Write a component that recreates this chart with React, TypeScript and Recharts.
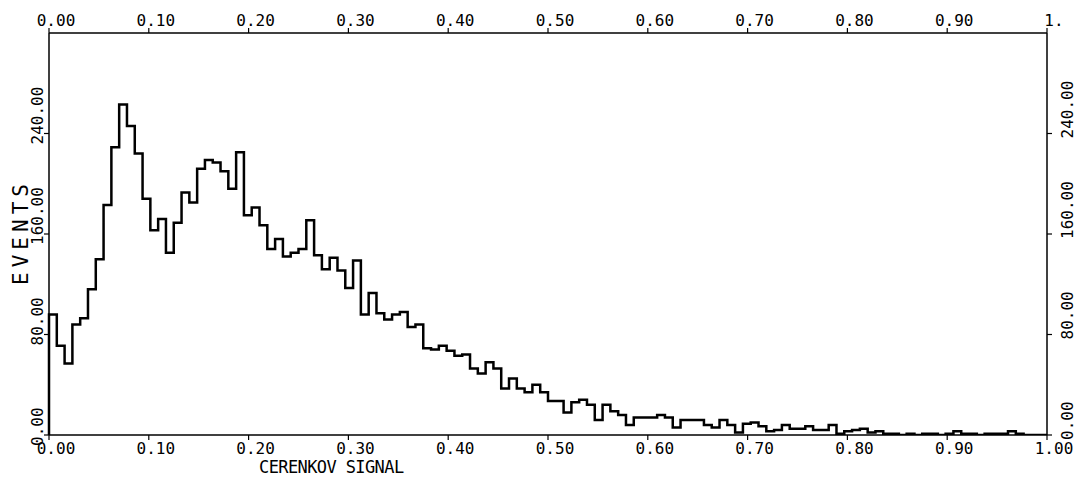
import { Label, Line, LineChart, XAxis, YAxis } from "recharts";

// 128 bins over 0..1, counts
const binCount = 128;
const events = [
  96, 71, 57, 88, 93, 116, 140, 183, 229, 263, 246, 224, 188, 163, 172, 145,
  169, 193, 185, 212, 219, 217, 210, 196, 225, 175, 181, 167, 148, 156, 142, 145,
  148, 171, 143, 132, 141, 131, 117, 139, 96, 113, 97, 92, 96, 98, 86, 88,
  69, 68, 71, 67, 63, 64, 53, 49, 58, 53, 37, 45, 37, 34, 40, 34,
  27, 27, 18, 26, 28, 24, 12, 24, 19, 16, 8, 14, 14, 14, 16, 14,
  6, 12, 12, 12, 8, 6, 12, 8, 2, 9, 10, 7, 3, 4, 8, 5,
  5, 7, 4, 4, 8, 1, 3, 4, 5, 2, 3, 1, 1, 0, 1, 0,
  1, 1, 0, 1, 3, 1, 1, 0, 1, 1, 1, 3, 1, 0, 0, 0,
];
const xTicks = [0, 0.1, 0.2, 0.3, 0.4, 0.5, 0.6, 0.7, 0.8, 0.9, 1];
const yTicks = [0, 80, 160, 240];

const data = [
  { x: 0, y: 0 },
  ...events.map((v, i) => ({ x: i / binCount, y: v })),
  { x: 1, y: 0 },
];

const font = "'DejaVu Sans Mono', monospace";
const ink = "#000";

function BottomTick({ x, y, payload }: any) {
  return (
    <text x={x + 7} y={y + 12} textAnchor="middle" fontFamily={font} fontSize={16} fill={ink}>
      {payload.value.toFixed(2)}
    </text>
  );
}

function TopTick({ x, y, payload }: any) {
  const label = payload.value === 1 ? "1." : payload.value.toFixed(2);
  return (
    <text x={x + 7} y={y} textAnchor="middle" fontFamily={font} fontSize={16} fill={ink}>
      {label}
    </text>
  );
}

function LeftTick({ x, y, payload }: any) {
  const ty = y + 11;
  return (
    <text x={x} y={ty} transform={`rotate(-90 ${x} ${ty})`} fontFamily={font} fontSize={16} fill={ink}>
      {payload.value.toFixed(2)}
    </text>
  );
}

function RightTick({ x, y, payload }: any) {
  const tx = x + 20;
  const ty = y + 5;
  return (
    <text x={tx} y={ty} transform={`rotate(-90 ${tx} ${ty})`} fontFamily={font} fontSize={16} fill={ink}>
      {payload.value.toFixed(2)}
    </text>
  );
}

export default function App() {
  const axisLine = { stroke: ink, strokeWidth: 1.5 };
  const tickLine = { stroke: ink, strokeWidth: 1.2 };
  return (
    <div style={{ position: "absolute", left: 0, top: 0, background: "#fff" }}>
      <LineChart width={1082} height={483} data={data} margin={{ top: 8, right: 5, bottom: 8, left: 9 }}>
        <XAxis
          xAxisId="bottom"
          dataKey="x"
          type="number"
          domain={[0, 1]}
          ticks={xTicks}
          interval={0}
          height={40}
          tickSize={5}
          tickMargin={2}
          axisLine={axisLine}
          tickLine={tickLine}
          tick={<BottomTick />}
        >
          <Label
            content={(props: any) => {
              const vb = props.viewBox ?? { x: 49, y: 435 };
              return (
                <text x={vb.x + 210} y={vb.y + 38} fontFamily={font} fontSize={17} letterSpacing={-0.6} fill={ink}>
                  CERENKOV SIGNAL
                </text>
              );
            }}
          />
        </XAxis>
        <XAxis
          xAxisId="top"
          orientation="top"
          dataKey="x"
          type="number"
          domain={[0, 1]}
          ticks={xTicks}
          interval={0}
          height={25}
          tickSize={5}
          tickMargin={2}
          axisLine={axisLine}
          tickLine={tickLine}
          tick={<TopTick />}
        />
        <YAxis
          yAxisId="left"
          type="number"
          domain={[0, 320]}
          ticks={yTicks}
          interval={0}
          width={40}
          tickSize={5}
          tickMargin={1}
          allowDataOverflow
          axisLine={axisLine}
          tickLine={tickLine}
          tick={<LeftTick />}
        >
          <Label
            content={(props: any) => {
              const vb = props.viewBox ?? { x: 9, y: 33, height: 402 };
              const tx = vb.x + 19;
              const ty = vb.y + vb.height / 2 - 2;
              return (
                <text
                  x={tx}
                  y={ty}
                  transform={`rotate(-90 ${tx} ${ty})`}
                  textAnchor="middle"
                  fontFamily={font}
                  fontSize={21}
                  letterSpacing={5}
                  fill={ink}
                >
                  EVENTS
                </text>
              );
            }}
          />
        </YAxis>
        <YAxis
          yAxisId="right"
          orientation="right"
          type="number"
          domain={[0, 320]}
          ticks={yTicks}
          interval={0}
          width={30}
          tickSize={5}
          tickMargin={1}
          allowDataOverflow
          axisLine={axisLine}
          tickLine={tickLine}
          tick={<RightTick />}
        />
        <Line
          xAxisId="bottom"
          yAxisId="left"
          type="stepAfter"
          dataKey="y"
          stroke={ink}
          strokeWidth={2.5}
          dot={false}
          activeDot={false}
          isAnimationActive={false}
        />
        <Line
          xAxisId="top"
          yAxisId="right"
          type="stepAfter"
          dataKey="y"
          stroke="none"
          dot={false}
          activeDot={false}
          legendType="none"
          isAnimationActive={false}
        />
      </LineChart>
    </div>
  );
}
